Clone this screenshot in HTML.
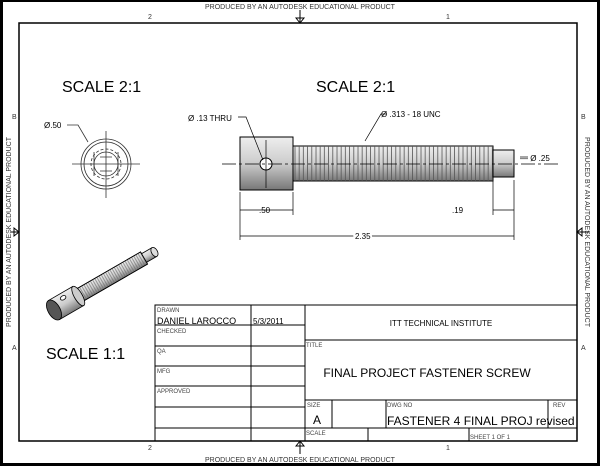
<!DOCTYPE html>
<html><head><style>
body{margin:0;background:#000;}
svg{display:block;font-family:"Liberation Sans",sans-serif;}
</style></head><body>
<svg width="600" height="466" viewBox="0 0 600 466">
<rect x="3" y="2" width="594" height="461" fill="#fff"/>
<rect x="19" y="23" width="558" height="418" fill="none" stroke="#000" stroke-width="1.5"/>
<g font-size="7" fill="#333">
<text x="300" y="9" text-anchor="middle">PRODUCED BY AN AUTODESK EDUCATIONAL PRODUCT</text>
<text x="300" y="462" text-anchor="middle">PRODUCED BY AN AUTODESK EDUCATIONAL PRODUCT</text>
<text transform="translate(11,232) rotate(-90)" text-anchor="middle">PRODUCED BY AN AUTODESK EDUCATIONAL PRODUCT</text>
<text transform="translate(585,232) rotate(90)" text-anchor="middle">PRODUCED BY AN AUTODESK EDUCATIONAL PRODUCT</text>
<text x="148" y="19">2</text><text x="446" y="19">1</text>
<text x="148" y="450">2</text><text x="446" y="450">1</text>
<text x="12" y="119">B</text><text x="581" y="119">B</text>
<text x="12" y="350">A</text><text x="581" y="350">A</text>
</g>
<g stroke="#000" fill="none" stroke-width="1">
<path d="M300 10V23M296 18L300 23L304 18Z"/>
<path d="M300 441V454M296 446L300 441L304 446Z"/>
<path d="M11 232H19M14 228L19 232L14 236Z"/>
<path d="M577 232H589M582 228L577 232L582 236Z"/>
</g>
<g font-size="16" fill="#000">
<text x="62" y="92">SCALE 2:1</text>
<text x="316" y="92">SCALE 2:1</text>
<text x="46" y="359">SCALE 1:1</text>
</g>
<g stroke="#333" fill="none" stroke-width="0.8">
<circle cx="106" cy="164" r="25"/><circle cx="106" cy="164" r="22"/>
<circle cx="106" cy="164" r="15" stroke-dasharray="3 2"/><circle cx="106" cy="164" r="12"/>
<path d="M72 164H140M106 131V198M94 152V176M118 152V176M100 157H112M100 171H112M106 157V171"/>
<path d="M67 125H78L88 142"/>
</g>
<text x="44" y="128" font-size="8">Ø.50</text>
<defs>
<linearGradient id="g" x1="0" y1="0" x2="0" y2="1"><stop offset="0" stop-color="#eee"/><stop offset="0.5" stop-color="#ccc"/><stop offset="1" stop-color="#777"/></linearGradient>
<pattern id="th" width="4.2" height="10" patternUnits="userSpaceOnUse"><line x1="1" y1="0" x2="1" y2="10" stroke="#555" stroke-width="0.8"/></pattern>
<pattern id="th2" width="2.5" height="10" patternUnits="userSpaceOnUse"><line x1="1" y1="0" x2="1" y2="10" stroke="#666" stroke-width="0.6"/></pattern>
</defs>
<rect x="240" y="137" width="53" height="53" fill="url(#g)" stroke="#000"/>
<rect x="293" y="146" width="200" height="35" fill="url(#g)" stroke="#000"/>
<rect x="293" y="146" width="200" height="35" fill="url(#th)"/>
<rect x="493" y="150" width="21" height="27" fill="url(#g)" stroke="#000"/>
<circle cx="266" cy="164" r="6" fill="#fff" stroke="#000"/>
<g stroke="#000" fill="none" stroke-width="0.7">
<path d="M222 164H560" stroke-dasharray="14 3 3 3"/>
<path d="M266 140V188"/>
<path d="M240 192V215M293 192V215M493 180V215M514 180V240M240 215V240"/>
<path d="M240 210H293M493 210H514M240 236H514"/>
<path d="M238 117H246L263 160"/>
<path d="M386 114H381L365 141"/>
<path d="M520 157H528"/>
</g>
<g font-size="8" fill="#000">
<text x="188" y="121">Ø .13 THRU</text>
<text x="381" y="117">Ø .313 - 18 UNC</text>
<text x="520" y="161">— Ø .25</text>
<text x="259" y="213">.50</text>
<text x="452" y="213">.19</text>
<text x="355" y="239" style="paint-order:stroke" stroke="#fff" stroke-width="4">2.35</text>
</g>
<!-- iso view -->
<g transform="translate(54,310) rotate(-30)" stroke="#000" stroke-width="0.8">
<rect x="26" y="-7" width="78" height="14" fill="url(#g)"/>
<rect x="26" y="-7" width="78" height="14" fill="url(#th2)"/>
<rect x="104" y="-5" width="12" height="10" fill="url(#g)"/>
<ellipse cx="116" cy="0" rx="3" ry="5" fill="#ddd"/>
<rect x="0" y="-11" width="28" height="22" fill="url(#g)"/>
<ellipse cx="28" cy="0" rx="4" ry="11" fill="#ccc"/>
<ellipse cx="0" cy="0" rx="6" ry="11" fill="#555"/>
<ellipse cx="14" cy="-6" rx="3" ry="2" fill="#fff"/>
</g>
<g stroke="#000" fill="none" stroke-width="1">
<rect x="155" y="305" width="422" height="136"/>
<path d="M251 305V441M305 305V441"/>
<path d="M155 325H305M155 346H305M155 366H305M155 386H305M155 407H305M155 428H577"/>
<path d="M305 340H577M305 400H577"/>
<path d="M332 400V428M386 400V428M548 400V428M368 428V441M469 428V441"/>
</g>
<g fill="#000">
<g font-size="6" fill="#444">
<text x="157" y="312">DRAWN</text><text x="157" y="333">CHECKED</text><text x="157" y="353">QA</text>
<text x="157" y="373">MFG</text><text x="157" y="393">APPROVED</text>
<text x="306" y="347">TITLE</text><text x="307" y="407">SIZE</text><text x="387" y="407">DWG NO</text>
<text x="553" y="407">REV</text><text x="306" y="435">SCALE</text><text x="470" y="439">SHEET 1  OF 1</text>
</g>
<text x="157" y="324" font-size="9">DANIEL LAROCCO</text>
<text x="253" y="324" font-size="8">5/3/2011</text>
<text x="441" y="326" font-size="8" text-anchor="middle">ITT TECHNICAL INSTITUTE</text>
<text x="427" y="377" font-size="12" text-anchor="middle">FINAL PROJECT FASTENER SCREW</text>
<text x="313" y="424" font-size="12">A</text>
<text x="387" y="425" font-size="12">FASTENER 4 FINAL PROJ revised</text>
</g>
</svg>
</body></html>
